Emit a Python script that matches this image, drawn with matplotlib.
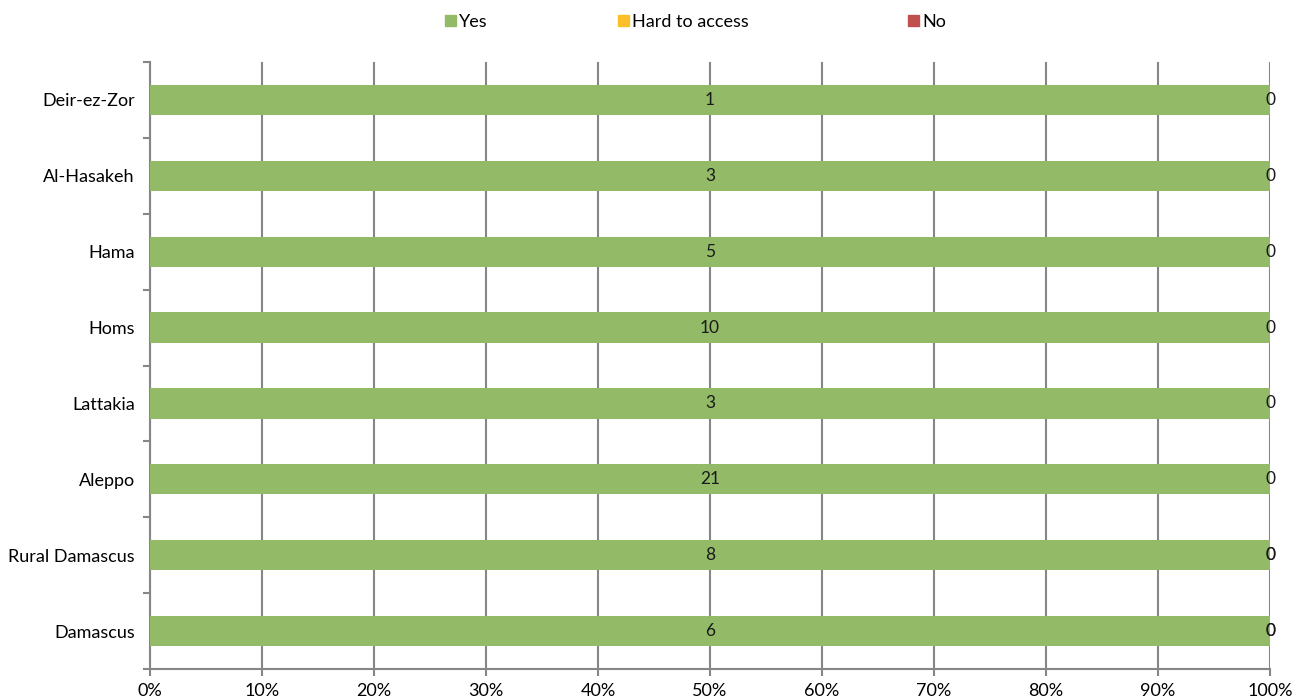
import matplotlib
matplotlib.use("Agg")
import matplotlib.pyplot as plt
from matplotlib.patches import Patch
from matplotlib.ticker import FixedLocator, PercentFormatter
import numpy as np

plt.rcParams['font.family'] = ['Lato', 'DejaVu Sans']

regions = ["Damascus", "Rural Damascus", "Aleppo", "Lattakia", "Homs", "Hama",
           "Al-Hasakeh", "Deir-ez-Zor"]
yes = [6, 8, 21, 3, 10, 5, 3, 1]
hard = [0, 0, 0, 0, 0, 0, 0, 0]
no = [0, 0, 0, 0, 0, 0, 0, 0]
# rows where the "Hard to access" label is shown as well
show_hard = [True, True, False, False, False, False, False, False]

series = ["Yes", "Hard to access", "No"]
colors = ["#93BA67", "#FBBF2A", "#C0504D"]

yes_a = np.array(yes, float)
hard_a = np.array(hard, float)
no_a = np.array(no, float)
tot = yes_a + hard_a + no_a
p_yes = yes_a / tot * 100
p_hard = hard_a / tot * 100
p_no = no_a / tot * 100

fig = plt.figure(figsize=(13.04, 6.97), dpi=100)
ax = fig.add_axes([150 / 1304, 1 - 669 / 697, 1120 / 1304, 607 / 697])

y = np.arange(len(regions))
h = 0.4
ax.barh(y, p_yes, height=h, color=colors[0], zorder=3)
ax.barh(y, p_hard, left=p_yes, height=h, color=colors[1], zorder=3)
ax.barh(y, p_no, left=p_yes + p_hard, height=h, color=colors[2], zorder=3)

fs = 12.5
for i in range(len(regions)):
    ax.text(p_yes[i] / 2, y[i], str(yes[i]), ha='center', va='center', fontsize=fs, color='#1a1a1a', zorder=4)
    if show_hard[i]:
        ax.text(p_yes[i] + p_hard[i] / 2, y[i], str(hard[i]), ha='center', va='center', fontsize=fs, color='#1a1a1a', zorder=4)
    ax.text(p_yes[i] + p_hard[i] + p_no[i] / 2, y[i], str(no[i]), ha='center', va='center', fontsize=fs, color='#1a1a1a', zorder=4)

ax.set_xlim(0, 100)
ax.set_ylim(-0.5, len(regions) - 0.5)
ax.set_xticks(np.arange(0, 101, 10))
ax.xaxis.set_major_formatter(PercentFormatter(decimals=0))
ax.set_yticks(y)
ax.set_yticklabels(regions)
ax.yaxis.set_minor_locator(FixedLocator(np.arange(-0.5, len(regions), 1)))

gray = "#868686"
ax.grid(axis='x', color=gray, linewidth=1.5, zorder=0)
for s in ['top', 'right']:
    ax.spines[s].set_visible(False)
for s in ['left', 'bottom']:
    ax.spines[s].set_color(gray)
    ax.spines[s].set_linewidth(1.5)
ax.tick_params(axis='y', which='major', length=0, pad=11, labelsize=13)
ax.tick_params(axis='y', which='minor', length=5, width=1.5, color=gray)
ax.tick_params(axis='x', which='major', length=5, width=1.5, color=gray, labelsize=13, pad=5)

leg_x = [445, 618, 908]
for lab, c, lx in zip(series, colors, leg_x):
    fig.legend([Patch(color=c)], [lab], loc='center left', bbox_to_anchor=(lx / 1304, 1 - 22 / 697),
               frameon=False, handlelength=0.6, handleheight=0.6, handletextpad=0.2,
               borderpad=0, borderaxespad=0, fontsize=13)

fig.savefig("out.png", dpi=100)
